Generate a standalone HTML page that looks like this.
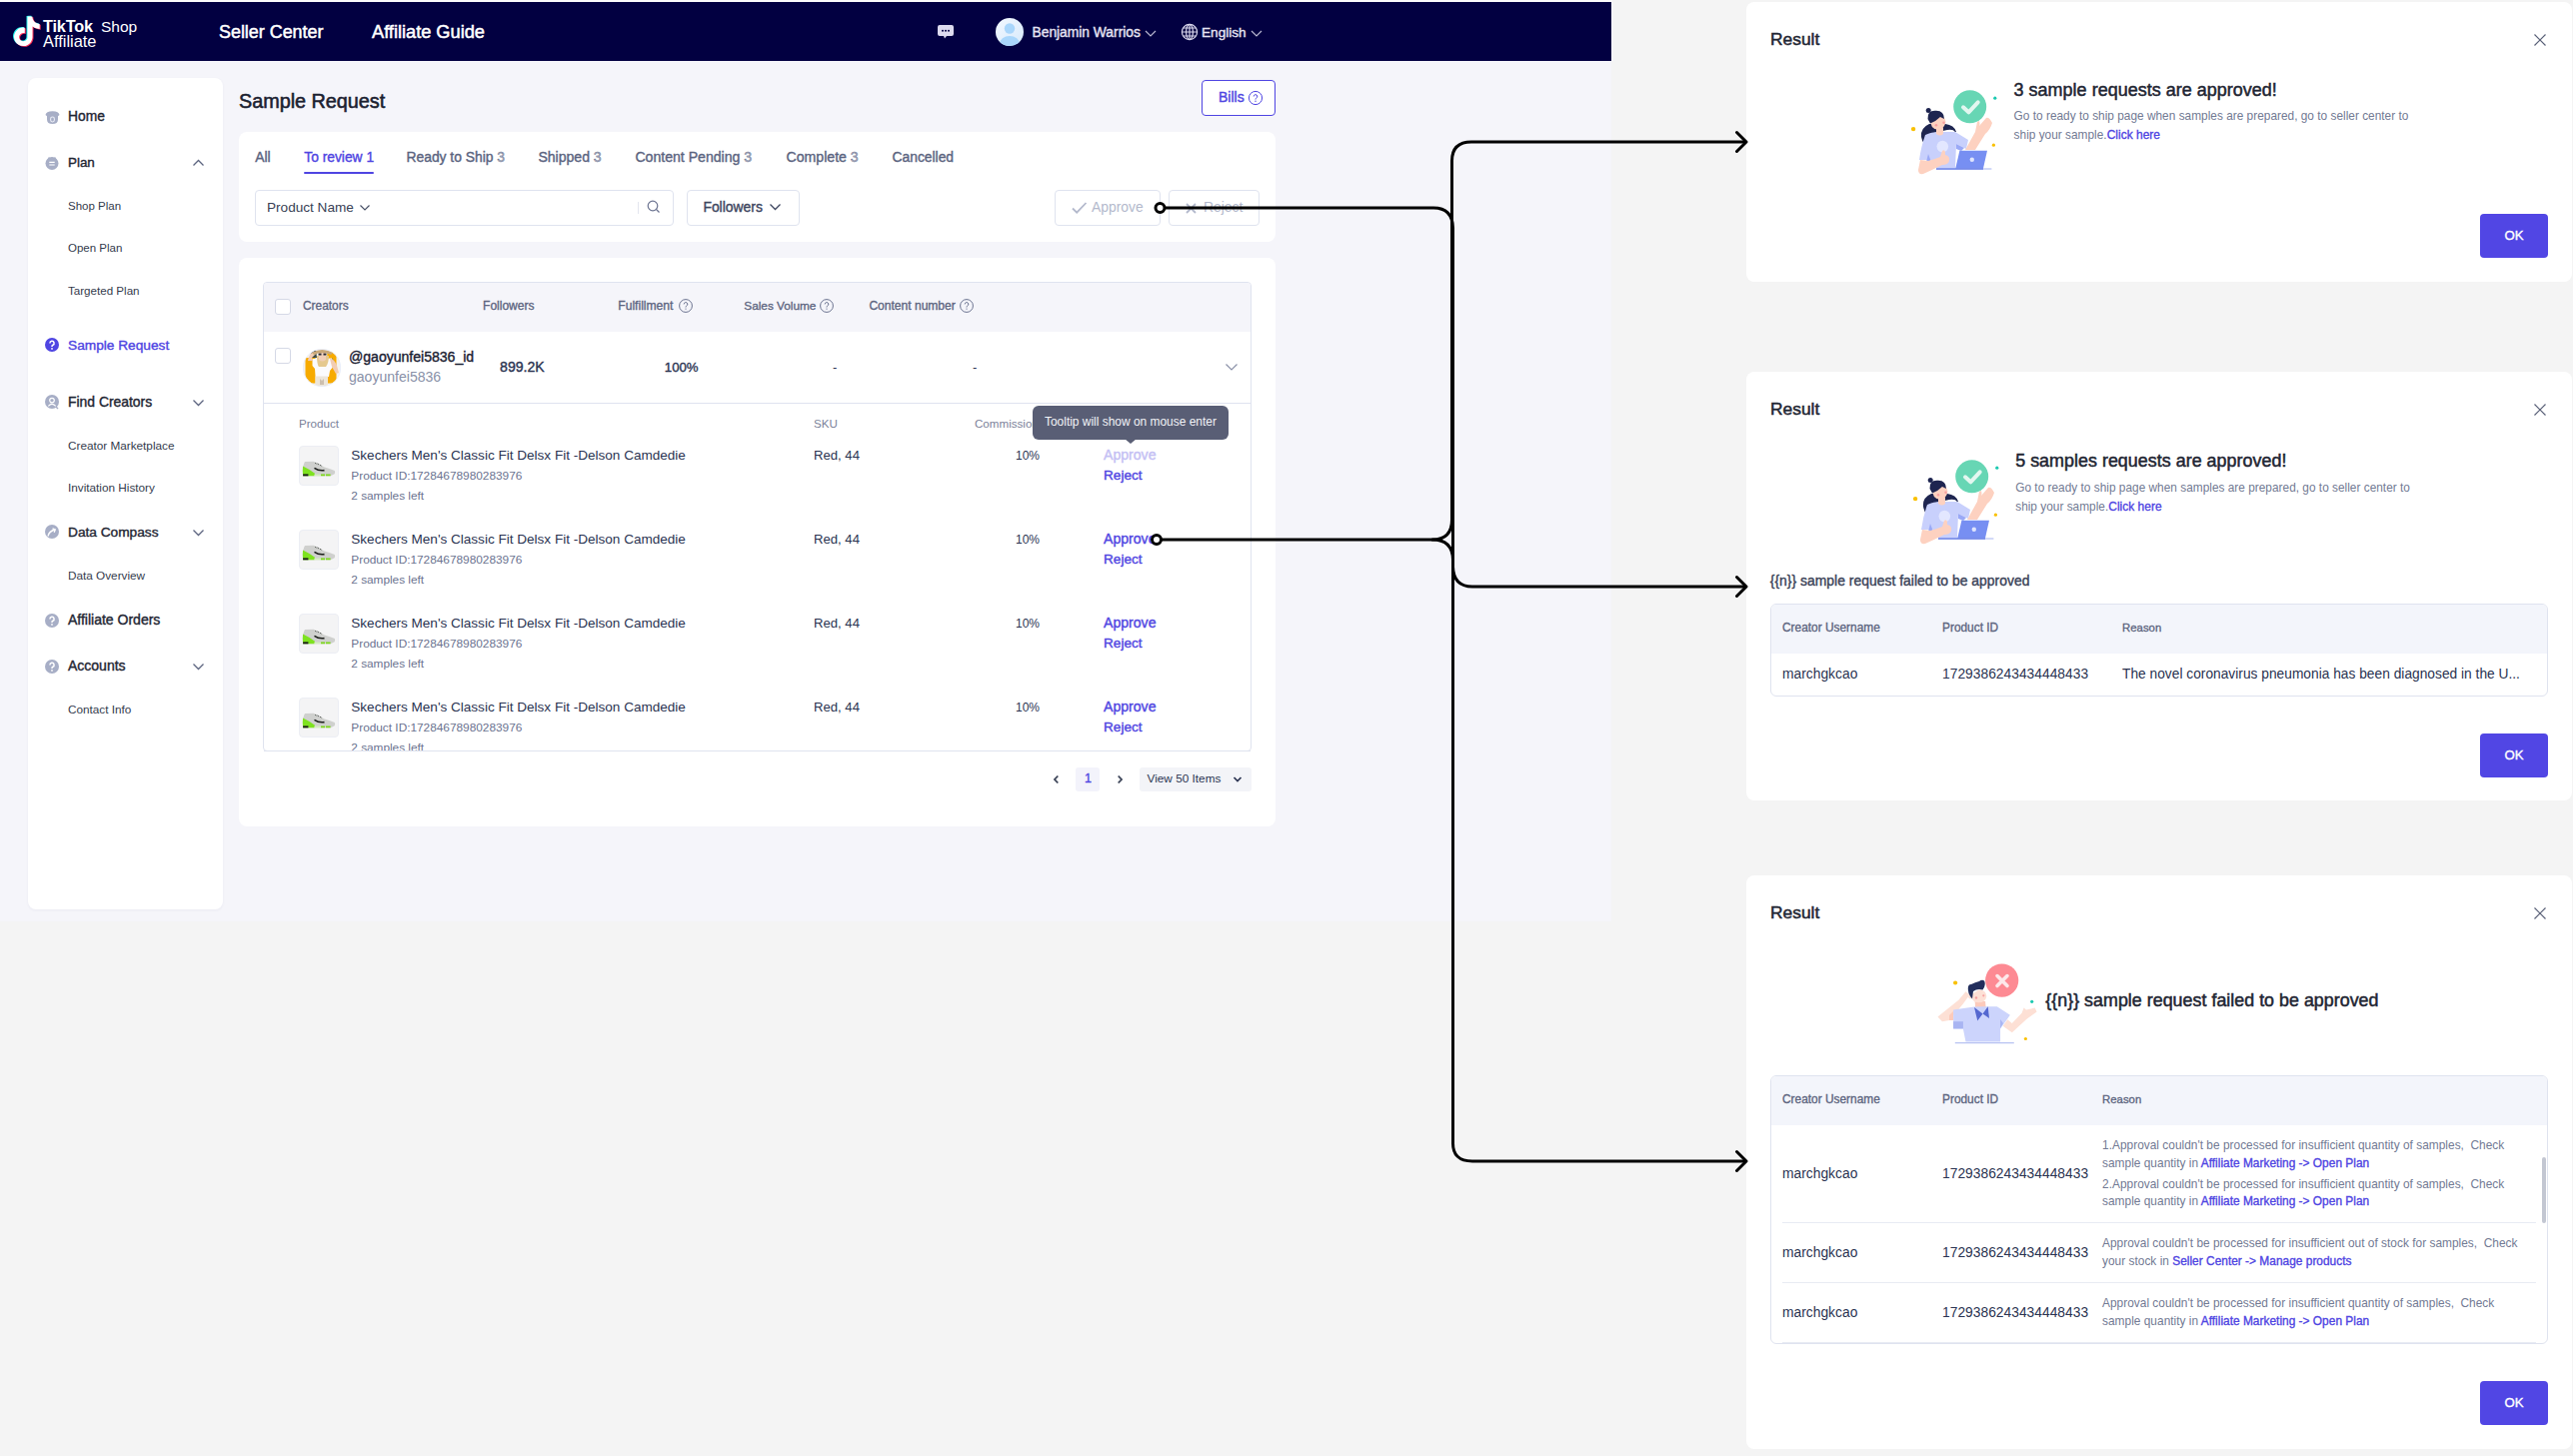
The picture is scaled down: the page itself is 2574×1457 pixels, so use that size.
<!DOCTYPE html>
<html><head><meta charset="utf-8">
<style>
*{box-sizing:border-box;margin:0;padding:0}
html,body{width:2574px;height:1457px;overflow:hidden;background:#f4f4f4;font-family:"Liberation Sans",sans-serif;color:#1f2633}
.abs{position:absolute}
.t{position:absolute;white-space:nowrap;line-height:1}
</style></head><body>
<div class="abs" style="left:0;top:0;width:1612px;height:922px;background:#f5f5fa"></div>
<div class="abs" style="left:0px;top:0px;width:1612px;height:2px;background:#fbfbfc"></div>
<div class="abs" style="left:0px;top:2px;width:1612px;height:59px;background:#020041"></div>
<div class="abs" style="left:1612px;top:0px;width:1px;height:61px;background:#fbfbfc"></div>
<svg class="abs" style="left:10px;top:15px;" width="34" height="36" viewBox="0 0 34 36"><g transform="translate(2.1,1.6) scale(1.23)"><path d="M12.525.02c1.31-.02 2.61-.01 3.91-.02.08 1.53.63 3.09 1.75 4.17 1.12 1.11 2.7 1.62 4.24 1.79v4.03c-1.440-.05-2.890-.35-4.200-.97-.57-.26-1.1-.59-1.620-.93-.01 2.920.01 5.840-.02 8.750-.08 1.4-.54 2.79-1.350 3.940-1.310 1.920-3.580 3.170-5.910 3.210-1.430.08-2.860-.31-4.080-1.030-2.020-1.190-3.440-3.370-3.650-5.710-.02-.5-.03-1-.01-1.490.18-1.900 1.120-3.720 2.580-4.960 1.660-1.440 3.980-2.130 6.150-1.720.02 1.480-.04 2.960-.04 4.440-.99-.32-2.150-.23-3.020.37-.63.41-1.110 1.040-1.360 1.750-.21.51-.15 1.070-.14 1.610.24 1.640 1.820 3.020 3.500 2.870 1.120-.01 2.190-.66 2.770-1.610.19-.33.4-.67.41-1.060.1-1.790.06-3.570.07-5.360.01-4.030-.01-8.050.02-12.070z" fill="#25f4ee" transform="translate(-0.8,-0.6)"/><path d="M12.525.02c1.31-.02 2.61-.01 3.91-.02.08 1.53.63 3.09 1.75 4.17 1.12 1.11 2.7 1.62 4.24 1.79v4.03c-1.440-.05-2.890-.35-4.200-.97-.57-.26-1.1-.59-1.620-.93-.01 2.920.01 5.840-.02 8.750-.08 1.4-.54 2.79-1.350 3.940-1.310 1.920-3.580 3.170-5.910 3.210-1.430.08-2.860-.31-4.080-1.030-2.020-1.190-3.440-3.370-3.650-5.710-.02-.5-.03-1-.01-1.490.18-1.900 1.120-3.720 2.580-4.960 1.660-1.440 3.980-2.130 6.150-1.720.02 1.480-.04 2.960-.04 4.440-.99-.32-2.150-.23-3.020.37-.63.41-1.110 1.040-1.360 1.750-.21.51-.15 1.070-.14 1.610.24 1.640 1.820 3.020 3.500 2.870 1.120-.01 2.190-.66 2.770-1.610.19-.33.4-.67.41-1.060.1-1.790.06-3.570.07-5.360.01-4.030-.01-8.050.02-12.070z" fill="#fe2c55" transform="translate(0.8,0.6)"/><path d="M12.525.02c1.31-.02 2.61-.01 3.91-.02.08 1.53.63 3.09 1.75 4.17 1.12 1.11 2.7 1.62 4.24 1.79v4.03c-1.440-.05-2.890-.35-4.200-.97-.57-.26-1.1-.59-1.620-.93-.01 2.920.01 5.840-.02 8.750-.08 1.4-.54 2.79-1.350 3.940-1.310 1.920-3.580 3.170-5.910 3.210-1.430.08-2.860-.31-4.080-1.030-2.020-1.190-3.440-3.370-3.650-5.710-.02-.5-.03-1-.01-1.490.18-1.900 1.120-3.720 2.580-4.960 1.660-1.440 3.980-2.130 6.150-1.720.02 1.480-.04 2.960-.04 4.440-.99-.32-2.150-.23-3.020.37-.63.41-1.110 1.040-1.360 1.750-.21.51-.15 1.070-.14 1.610.24 1.640 1.820 3.020 3.500 2.870 1.120-.01 2.190-.66 2.770-1.610.19-.33.4-.67.41-1.060.1-1.790.06-3.570.07-5.360.01-4.030-.01-8.050.02-12.070z" fill="#fff"/></g></svg>
<div class="t" style="left:43.0px;top:18.00px;font-size:16.3px;color:#fff;font-weight:700;letter-spacing:-0.2px">TikTok</div>
<div class="t" style="left:101.0px;top:19.00px;font-size:15.5px;color:#fff;">Shop</div>
<div class="t" style="left:43.0px;top:33.00px;font-size:16.4px;color:#fff;">Affiliate</div>
<div class="t" style="left:219.0px;top:24.00px;font-size:17.9px;color:#fff;-webkit-text-stroke:0.50px #fff;">Seller Center</div>
<div class="t" style="left:372.0px;top:23.00px;font-size:18.2px;color:#fff;-webkit-text-stroke:0.51px #fff;">Affiliate Guide</div>
<svg class="abs" style="left:937px;top:24px;" width="18" height="16" viewBox="0 0 18 16"><path d="M3 1h12a2 2 0 0 1 2 2v7a2 2 0 0 1-2 2H10l-2 2.5L7 12H3a2 2 0 0 1-2-2V3a2 2 0 0 1 2-2z" fill="#dddbef"/><circle cx="6" cy="6.8" r="1" fill="#020041"/><circle cx="9" cy="6.8" r="1" fill="#020041"/><circle cx="12" cy="6.8" r="1" fill="#020041"/></svg>
<svg class="abs" style="left:996px;top:18px;" width="28" height="28" viewBox="0 0 28 28"><defs><linearGradient id="av" x1="0" y1="0" x2="1" y2="1"><stop offset="0" stop-color="#f3f8ff"/><stop offset="1" stop-color="#d6e9fb"/></linearGradient><clipPath id="avc"><circle cx="14" cy="14" r="14"/></clipPath></defs><circle cx="14" cy="14" r="14" fill="url(#av)"/><g clip-path="url(#avc)"><circle cx="14" cy="10.5" r="5.2" fill="#a9d6fb"/><ellipse cx="14" cy="26" rx="10" ry="8" fill="#a9d6fb"/></g></svg>
<div class="t" style="left:1032.5px;top:26.00px;font-size:13.8px;color:#e6e4f3;-webkit-text-stroke:0.39px #e6e4f3;">Benjamin Warrios</div>
<svg class="abs" style="left:1145px;top:30px;" width="12" height="7" viewBox="0 0 12 7"><path d="M1 1l5 5 5-5" fill="none" stroke="#b8b6d0" stroke-width="1.2"/></svg>
<svg class="abs" style="left:1181px;top:23px;" width="18" height="18" viewBox="0 0 18 18"><g fill="none" stroke="#d9d7ec" stroke-width="1.2"><circle cx="9" cy="9" r="7.6"/><ellipse cx="9" cy="9" rx="3.4" ry="7.6"/><path d="M1.4 9h15.2M2.5 5h13M2.5 13h13M9 1.4v15.2"/></g></svg>
<div class="t" style="left:1202.0px;top:26.00px;font-size:13.6px;color:#e6e4f3;-webkit-text-stroke:0.38px #e6e4f3;">English</div>
<svg class="abs" style="left:1251px;top:30px;" width="12" height="7" viewBox="0 0 12 7"><path d="M1 1l5 5 5-5" fill="none" stroke="#b8b6d0" stroke-width="1.2"/></svg>
<div class="abs" style="left:28px;top:78px;width:195px;height:832px;background:#fff;border-radius:8px;box-shadow:0 1px 3px rgba(30,40,90,0.05)"></div>
<svg class="abs" style="left:45px;top:110px;" width="15" height="15" viewBox="0 0 15 15"><path d="M0.5 5Q1 1.5 7.5 1.2Q14 1.5 14.5 5L13 6.2V9.5Q13 14 7.5 14Q2 14 2 9.5V6.2z" fill="#a7aec6"/><rect x="5.6" y="7" width="3.8" height="5" rx="1.9" fill="none" stroke="#e9ecf5" stroke-width="1.1"/></svg>
<div class="t" style="left:68.0px;top:110.00px;font-size:13.8px;color:#1f2633;-webkit-text-stroke:0.39px #1f2633;">Home</div>
<svg class="abs" style="left:45px;top:156px;" width="15" height="15" viewBox="0 0 15 15"><circle cx="7" cy="7.5" r="6.5" fill="#a7aec6"/><path d="M4 1.5v2M10 1.5v2" stroke="#a7aec6" stroke-width="1.6"/><path d="M4.3 6.3h5.4M4.3 9h5.4" stroke="#fff" stroke-width="1.2"/></svg>
<div class="t" style="left:68.0px;top:156.00px;font-size:13.4px;color:#1f2633;-webkit-text-stroke:0.38px #1f2633;">Plan</div>
<svg class="abs" style="left:192px;top:159px;" width="13" height="8" viewBox="0 0 13 8"><path d="M1.5 6.5l5-5 5 5" fill="none" stroke="#5d6580" stroke-width="1.3"/></svg>
<div class="t" style="left:68.0px;top:201.00px;font-size:11.5px;color:#343b4d;">Shop Plan</div>
<div class="t" style="left:68.0px;top:243.00px;font-size:11.5px;color:#343b4d;">Open Plan</div>
<div class="t" style="left:68.0px;top:285.00px;font-size:11.6px;color:#343b4d;">Targeted Plan</div>
<svg class="abs" style="left:45px;top:338px;" width="15" height="15" viewBox="0 0 15 15"><circle cx="7" cy="7" r="7" fill="#4f45e2"/><path d="M4.9 5.4a2.1 2.1 0 1 1 3 1.9c-.6.3-.9.7-.9 1.3v.5" fill="none" stroke="#fff" stroke-width="1.5"/><circle cx="7" cy="10.9" r="0.9" fill="#fff"/></svg>
<div class="t" style="left:68.0px;top:339.00px;font-size:13.7px;color:#4f45e2;-webkit-text-stroke:0.38px #4f45e2;">Sample Request</div>
<svg class="abs" style="left:45px;top:395px;" width="15" height="15" viewBox="0 0 15 15"><circle cx="7" cy="7" r="7" fill="#a7aec6"/><circle cx="7" cy="5.6" r="2.3" fill="none" stroke="#fff" stroke-width="1.2"/><path d="M3.3 11.3q3.7-4 7.4 0" fill="none" stroke="#fff" stroke-width="1.2"/><path d="M11 12l2 2" stroke="#a7aec6" stroke-width="1.5"/></svg>
<div class="t" style="left:68.0px;top:396.00px;font-size:13.9px;color:#1f2633;-webkit-text-stroke:0.39px #1f2633;">Find Creators</div>
<svg class="abs" style="left:192px;top:399px;" width="13" height="8" viewBox="0 0 13 8"><path d="M1.5 1.5l5 5 5-5" fill="none" stroke="#5d6580" stroke-width="1.3"/></svg>
<div class="t" style="left:68.0px;top:440.00px;font-size:11.75px;color:#343b4d;">Creator Marketplace</div>
<div class="t" style="left:68.0px;top:482.00px;font-size:11.75px;color:#343b4d;">Invitation History</div>
<svg class="abs" style="left:45px;top:525px;" width="15" height="15" viewBox="0 0 15 15"><circle cx="7" cy="7" r="7" fill="#a7aec6"/><path d="M3 11.5q1-5 7-6.5" fill="none" stroke="#fff" stroke-width="1.4"/><path d="M7.5 3.8l2.8 1.1-1.1 2.8" fill="none" stroke="#fff" stroke-width="1.3"/></svg>
<div class="t" style="left:68.0px;top:526.00px;font-size:13.7px;color:#1f2633;-webkit-text-stroke:0.38px #1f2633;">Data Compass</div>
<svg class="abs" style="left:192px;top:529px;" width="13" height="8" viewBox="0 0 13 8"><path d="M1.5 1.5l5 5 5-5" fill="none" stroke="#5d6580" stroke-width="1.3"/></svg>
<div class="t" style="left:68.0px;top:570.00px;font-size:11.75px;color:#343b4d;">Data Overview</div>
<svg class="abs" style="left:45px;top:614px;" width="15" height="15" viewBox="0 0 15 15"><circle cx="7" cy="7" r="7" fill="#a7aec6"/><path d="M4.9 5.4a2.1 2.1 0 1 1 3 1.9c-.6.3-.9.7-.9 1.3v.5" fill="none" stroke="#fff" stroke-width="1.5"/><circle cx="7" cy="10.9" r="0.9" fill="#fff"/></svg>
<div class="t" style="left:68.0px;top:613.00px;font-size:14.0px;color:#1f2633;-webkit-text-stroke:0.39px #1f2633;">Affiliate Orders</div>
<svg class="abs" style="left:45px;top:660px;" width="15" height="15" viewBox="0 0 15 15"><circle cx="7" cy="7" r="7" fill="#a7aec6"/><path d="M4.9 5.4a2.1 2.1 0 1 1 3 1.9c-.6.3-.9.7-.9 1.3v.5" fill="none" stroke="#fff" stroke-width="1.5"/><circle cx="7" cy="10.9" r="0.9" fill="#fff"/></svg>
<div class="t" style="left:68.0px;top:659.00px;font-size:14.0px;color:#1f2633;-webkit-text-stroke:0.39px #1f2633;">Accounts</div>
<svg class="abs" style="left:192px;top:663px;" width="13" height="8" viewBox="0 0 13 8"><path d="M1.5 1.5l5 5 5-5" fill="none" stroke="#5d6580" stroke-width="1.3"/></svg>
<div class="t" style="left:68.0px;top:704.00px;font-size:11.75px;color:#343b4d;">Contact Info</div>
<div class="t" style="left:239.0px;top:92.00px;font-size:19.8px;color:#1b2130;-webkit-text-stroke:0.55px #1b2130;">Sample Request</div>
<div class="abs" style="left:1202px;top:80px;width:74px;height:36px;border:1px solid #4f45e2;border-radius:4px;background:#fff"></div>
<div class="t" style="left:1219.0px;top:90.00px;font-size:14px;color:#4f45e2;-webkit-text-stroke:0.39px #4f45e2;">Bills</div>
<svg class="abs" style="left:1248px;top:90px;" width="16" height="16" viewBox="0 0 16 16"><circle cx="8" cy="8" r="6.6" fill="none" stroke="#4f45e2" stroke-width="1"/><path d="M6.2 6.5a1.8 1.8 0 1 1 2.6 1.6c-.5.3-.8.6-.8 1.1v.4" fill="none" stroke="#4f45e2" stroke-width="1"/><circle cx="8" cy="11.2" r="0.7" fill="#4f45e2"/></svg>
<div class="abs" style="left:239px;top:132px;width:1037px;height:110px;background:#fff;border-radius:8px"></div>
<div class="t" style="left:255.2px;top:151.00px;font-size:13.95px;color:#5b6480;-webkit-text-stroke:0.39px #5b6480;">All</div>
<div class="t" style="left:304.3px;top:151.00px;font-size:13.8px;color:#4f45e2;-webkit-text-stroke:0.39px #4f45e2;">To review 1</div>
<div class="abs" style="left:304px;top:172px;width:70px;height:2px;background:#4f45e2;border-radius:1px"></div>
<div class="t" style="left:406.5px;top:151.00px;font-size:13.85px;color:#5b6480;-webkit-text-stroke:0.39px #5b6480;">Ready to Ship <span style="color:#abb2c6">3</span></div>
<div class="t" style="left:538.4px;top:150.00px;font-size:14.05px;color:#5b6480;-webkit-text-stroke:0.39px #5b6480;">Shipped <span style="color:#abb2c6">3</span></div>
<div class="t" style="left:635.4px;top:150.00px;font-size:14.1px;color:#5b6480;-webkit-text-stroke:0.39px #5b6480;">Content Pending <span style="color:#abb2c6">3</span></div>
<div class="t" style="left:786.6px;top:150.00px;font-size:14.1px;color:#5b6480;-webkit-text-stroke:0.39px #5b6480;">Complete <span style="color:#abb2c6">3</span></div>
<div class="t" style="left:892.5px;top:151.00px;font-size:13.85px;color:#5b6480;-webkit-text-stroke:0.39px #5b6480;">Cancelled</div>
<div class="abs" style="left:255px;top:190px;width:419px;height:36px;border:1px solid #dfe3ef;border-radius:4px"></div>
<div class="t" style="left:267.0px;top:201.00px;font-size:13.6px;color:#3a4256;">Product Name</div>
<svg class="abs" style="left:359px;top:204px;" width="12" height="8" viewBox="0 0 12 8"><path d="M1.5 1.5l4.5 4.5 4.5-4.5" fill="none" stroke="#4a5268" stroke-width="1.2"/></svg>
<div class="abs" style="left:638px;top:202px;width:1px;height:12px;background:#e3e6ef"></div>
<svg class="abs" style="left:646px;top:199px;" width="16" height="16" viewBox="0 0 16 16"><circle cx="7" cy="7" r="4.8" fill="none" stroke="#6b7390" stroke-width="1.2"/><path d="M10.5 10.5l3 3" stroke="#6b7390" stroke-width="1.2"/></svg>
<div class="abs" style="left:687px;top:190px;width:113px;height:36px;border:1px solid #dfe3ef;border-radius:4px"></div>
<div class="t" style="left:703.4px;top:201.00px;font-size:13.9px;color:#3e4660;-webkit-text-stroke:0.39px #3e4660;">Followers</div>
<svg class="abs" style="left:769px;top:203px;" width="13" height="8" viewBox="0 0 13 8"><path d="M1.5 1.5l5 5 5-5" fill="none" stroke="#3e4660" stroke-width="1.3"/></svg>
<div class="abs" style="left:1055px;top:190px;width:106px;height:36px;border:1px solid #dfe3ef;border-radius:4px"></div>
<svg class="abs" style="left:1071px;top:200px;" width="18" height="16" viewBox="0 0 18 16"><path d="M2 8.5l4.2 4.2L15.5 3" fill="none" stroke="#b3b9cc" stroke-width="1.8"/></svg>
<div class="t" style="left:1092.0px;top:201.00px;font-size:13.9px;color:#b3b9cc;">Approve</div>
<div class="abs" style="left:1169px;top:190px;width:91px;height:36px;border:1px solid #dfe3ef;border-radius:4px"></div>
<svg class="abs" style="left:1185px;top:202px;" width="13" height="13" viewBox="0 0 13 13"><path d="M2 2l9 9M11 2l-9 9" fill="none" stroke="#b3b9cc" stroke-width="1.8"/></svg>
<div class="t" style="left:1204.0px;top:201.00px;font-size:13.9px;color:#b3b9cc;">Reject</div>
<div class="abs" style="left:239px;top:258px;width:1037px;height:569px;background:#fff;border-radius:8px"></div>
<div class="abs" style="left:263px;top:282px;width:989px;height:470px;border:1px solid #dfe3ef;border-radius:4px;overflow:hidden"></div>
<div class="abs" style="left:264px;top:283px;width:987px;height:49px;background:#f5f5fa;border-radius:3px 3px 0 0"></div>
<div class="abs" style="left:275px;top:299px;width:16px;height:16px;border:1px solid #d5d9e6;border-radius:3px;background:#fff"></div>
<div class="t" style="left:303.0px;top:301.00px;font-size:11.9px;color:#5d6580;-webkit-text-stroke:0.33px #5d6580;">Creators</div>
<div class="t" style="left:483.1px;top:300.00px;font-size:12.0px;color:#5d6580;-webkit-text-stroke:0.34px #5d6580;">Followers</div>
<div class="t" style="left:618.3px;top:300.00px;font-size:12.1px;color:#5d6580;-webkit-text-stroke:0.34px #5d6580;">Fulfillment</div>
<svg class="abs" style="left:678px;top:298px;" width="16" height="16" viewBox="0 0 16 16"><circle cx="8" cy="8" r="6.4" fill="none" stroke="#6b7390" stroke-width="1"/><path d="M6.2 6.4a1.8 1.8 0 1 1 2.6 1.6c-.5.3-.8.6-.8 1.1v.4" fill="none" stroke="#6b7390" stroke-width="1"/><circle cx="8" cy="11.1" r="0.7" fill="#6b7390"/></svg>
<div class="t" style="left:744.3px;top:301.00px;font-size:11.8px;color:#5d6580;-webkit-text-stroke:0.33px #5d6580;">Sales Volume</div>
<svg class="abs" style="left:819px;top:298px;" width="16" height="16" viewBox="0 0 16 16"><circle cx="8" cy="8" r="6.4" fill="none" stroke="#6b7390" stroke-width="1"/><path d="M6.2 6.4a1.8 1.8 0 1 1 2.6 1.6c-.5.3-.8.6-.8 1.1v.4" fill="none" stroke="#6b7390" stroke-width="1"/><circle cx="8" cy="11.1" r="0.7" fill="#6b7390"/></svg>
<div class="t" style="left:869.4px;top:300.00px;font-size:12.05px;color:#5d6580;-webkit-text-stroke:0.34px #5d6580;">Content number</div>
<svg class="abs" style="left:959px;top:298px;" width="16" height="16" viewBox="0 0 16 16"><circle cx="8" cy="8" r="6.4" fill="none" stroke="#6b7390" stroke-width="1"/><path d="M6.2 6.4a1.8 1.8 0 1 1 2.6 1.6c-.5.3-.8.6-.8 1.1v.4" fill="none" stroke="#6b7390" stroke-width="1"/><circle cx="8" cy="11.1" r="0.7" fill="#6b7390"/></svg>
<div class="abs" style="left:275px;top:348px;width:16px;height:16px;border:1px solid #d5d9e6;border-radius:3px;background:#fff"></div>
<svg class="abs" style="left:303px;top:349px" width="38" height="38" viewBox="0 0 38 38"><defs><clipPath id="ca"><circle cx="19" cy="19" r="18.7"/></clipPath></defs><g clip-path="url(#ca)"><rect width="38" height="38" fill="#f6f3ee"/><rect x="2.5" y="9" width="10" height="25.5" fill="#f7ab00"/><rect x="24.3" y="2.8" width="9.2" height="31.7" fill="#f7ab00"/><path d="M7 9Q8 2 13 1L14 9z" fill="#3c4a44"/><path d="M29 9l3 5-2 3z" fill="#3c4a44"/><path d="M9.5 10L29 9.5L31 17L27 22L26 28H13L12 20L9.5 17z" fill="#fbfbfd"/><path d="M12.5 27.5H25V38H12.5z" fill="#ede6da"/><path d="M17 30l2 2 2-2v6h-4z" fill="#cdbfae"/><path d="M5 12Q6 5 11 3L13 5L9 9L10 12z" fill="#f2cdb4"/><path d="M27 10Q31 9 34 17L36 24L33 25L29 18z" fill="#f2cdb4"/><path d="M14 7Q14 16 16 18L23 18Q26 14 26 7z" fill="#e5c98f"/><path d="M16 3H23V11Q19.5 14 16 11z" fill="#f1cfb8"/><path d="M15.5 4.5h3v2h-3zM20.5 4.5h3v2h-3z" fill="#2b2b33"/><path d="M9 4Q19 -2 30 4L28 6Q19 2 11 6z" fill="#c9a878"/></g><circle cx="19" cy="19" r="18.7" fill="none" stroke="#e6ecfb" stroke-width="0.8"/></svg>
<div class="t" style="left:349.0px;top:350.00px;font-size:14.05px;color:#1c2233;-webkit-text-stroke:0.39px #1c2233;">@gaoyunfei5836_id</div>
<div class="t" style="left:349.0px;top:370.00px;font-size:14.05px;color:#8a91a8;">gaoyunfei5836</div>
<div class="t" style="left:500.1px;top:360.00px;font-size:14.05px;color:#2b3452;-webkit-text-stroke:0.39px #2b3452;">899.2K</div>
<div class="t" style="left:664.8px;top:361.00px;font-size:13.2px;color:#2b3452;-webkit-text-stroke:0.37px #2b3452;">100%</div>
<div class="t" style="left:833.0px;top:361.00px;font-size:13px;color:#2b3452;">-</div>
<div class="t" style="left:973.0px;top:361.00px;font-size:13px;color:#2b3452;">-</div>
<svg class="abs" style="left:1225px;top:363px;" width="14" height="9" viewBox="0 0 14 9"><path d="M1.5 1.5l5.5 5.5 5.5-5.5" fill="none" stroke="#8a91a8" stroke-width="1.2"/></svg>
<div class="abs" style="left:264px;top:403px;width:987px;height:1px;background:#dfe3ef"></div>
<div class="t" style="left:299.0px;top:418.00px;font-size:11.6px;color:#7b829a;">Product</div>
<div class="t" style="left:814.0px;top:418.00px;font-size:11.6px;color:#7b829a;">SKU</div>
<div class="t" style="left:975.0px;top:418.00px;font-size:11.6px;color:#7b829a;">Commission</div>
<div class="abs" style="left:299px;top:446px;width:40px;height:40px;background:#f4f4f5;border:1px solid #eceef4;border-radius:4px"></div>
<svg class="abs" style="left:299px;top:446px;" width="40" height="40" viewBox="0 0 40 40"><path d="M4 27.5Q3.5 20 6 16L14.5 15.8Q20 17 25 21.3Q32 23.3 35.8 25Q36.6 27 35.7 28.2L31.6 30.3H4.1z" fill="#cfd0ce"/><path d="M4 20.5Q9.5 23 16 27.8L15.5 30.3H4.1Q3.4 25 4 20.5z" fill="#7ee21f"/><path d="M15.5 28.6h6.5v1.7h-6.5z" fill="#d4efbd"/><path d="M22 28.6h4v1.7h-4zM27 28.6h4.6v1.7H27z" fill="#7cd71b"/><path d="M4.1 28.4h5.3v1.9H4.1z" fill="#1a1c19"/><path d="M15.5 22.3Q20 25.5 25.5 24.6" fill="none" stroke="#1a1c19" stroke-width="1.6"/><path d="M16 17.3l1.5 0.8M18.5 18l1.5 0.9M21 19.2l1.5 1" stroke="#555955" stroke-width="0.9"/></svg>
<div class="t" style="left:351.3px;top:449.00px;font-size:13.56px;color:#2b3452;">Skechers Men's Classic Fit Delsx Fit -Delson Camdedie</div>
<div class="t" style="left:351.3px;top:471.00px;font-size:11.83px;color:#6b7390;">Product ID:17284678980283976</div>
<div class="t" style="left:351.3px;top:491.00px;font-size:11.8px;color:#6b7390;">2 samples left</div>
<div class="t" style="left:814.0px;top:449.00px;font-size:13.13px;color:#2b3452;">Red, 44</div>
<div class="t" style="left:1016.0px;top:450.00px;font-size:12.0px;color:#2b3452;">10%</div>
<div class="t" style="left:1104.0px;top:448.00px;font-size:14.1px;color:#c4c0f4;-webkit-text-stroke:0.39px #c4c0f4;">Approve</div>
<div class="t" style="left:1104.0px;top:469.00px;font-size:13.6px;color:#4f45e2;-webkit-text-stroke:0.38px #4f45e2;">Reject</div>
<div class="abs" style="left:299px;top:530px;width:40px;height:40px;background:#f4f4f5;border:1px solid #eceef4;border-radius:4px"></div>
<svg class="abs" style="left:299px;top:530px;" width="40" height="40" viewBox="0 0 40 40"><path d="M4 27.5Q3.5 20 6 16L14.5 15.8Q20 17 25 21.3Q32 23.3 35.8 25Q36.6 27 35.7 28.2L31.6 30.3H4.1z" fill="#cfd0ce"/><path d="M4 20.5Q9.5 23 16 27.8L15.5 30.3H4.1Q3.4 25 4 20.5z" fill="#7ee21f"/><path d="M15.5 28.6h6.5v1.7h-6.5z" fill="#d4efbd"/><path d="M22 28.6h4v1.7h-4zM27 28.6h4.6v1.7H27z" fill="#7cd71b"/><path d="M4.1 28.4h5.3v1.9H4.1z" fill="#1a1c19"/><path d="M15.5 22.3Q20 25.5 25.5 24.6" fill="none" stroke="#1a1c19" stroke-width="1.6"/><path d="M16 17.3l1.5 0.8M18.5 18l1.5 0.9M21 19.2l1.5 1" stroke="#555955" stroke-width="0.9"/></svg>
<div class="t" style="left:351.3px;top:533.00px;font-size:13.56px;color:#2b3452;">Skechers Men's Classic Fit Delsx Fit -Delson Camdedie</div>
<div class="t" style="left:351.3px;top:555.00px;font-size:11.83px;color:#6b7390;">Product ID:17284678980283976</div>
<div class="t" style="left:351.3px;top:575.00px;font-size:11.8px;color:#6b7390;">2 samples left</div>
<div class="t" style="left:814.0px;top:533.00px;font-size:13.13px;color:#2b3452;">Red, 44</div>
<div class="t" style="left:1016.0px;top:534.00px;font-size:12.0px;color:#2b3452;">10%</div>
<div class="t" style="left:1104.0px;top:532.00px;font-size:14.1px;color:#4f45e2;-webkit-text-stroke:0.39px #4f45e2;">Approve</div>
<div class="t" style="left:1104.0px;top:553.00px;font-size:13.6px;color:#4f45e2;-webkit-text-stroke:0.38px #4f45e2;">Reject</div>
<div class="abs" style="left:299px;top:614px;width:40px;height:40px;background:#f4f4f5;border:1px solid #eceef4;border-radius:4px"></div>
<svg class="abs" style="left:299px;top:614px;" width="40" height="40" viewBox="0 0 40 40"><path d="M4 27.5Q3.5 20 6 16L14.5 15.8Q20 17 25 21.3Q32 23.3 35.8 25Q36.6 27 35.7 28.2L31.6 30.3H4.1z" fill="#cfd0ce"/><path d="M4 20.5Q9.5 23 16 27.8L15.5 30.3H4.1Q3.4 25 4 20.5z" fill="#7ee21f"/><path d="M15.5 28.6h6.5v1.7h-6.5z" fill="#d4efbd"/><path d="M22 28.6h4v1.7h-4zM27 28.6h4.6v1.7H27z" fill="#7cd71b"/><path d="M4.1 28.4h5.3v1.9H4.1z" fill="#1a1c19"/><path d="M15.5 22.3Q20 25.5 25.5 24.6" fill="none" stroke="#1a1c19" stroke-width="1.6"/><path d="M16 17.3l1.5 0.8M18.5 18l1.5 0.9M21 19.2l1.5 1" stroke="#555955" stroke-width="0.9"/></svg>
<div class="t" style="left:351.3px;top:617.00px;font-size:13.56px;color:#2b3452;">Skechers Men's Classic Fit Delsx Fit -Delson Camdedie</div>
<div class="t" style="left:351.3px;top:639.00px;font-size:11.83px;color:#6b7390;">Product ID:17284678980283976</div>
<div class="t" style="left:351.3px;top:659.00px;font-size:11.8px;color:#6b7390;">2 samples left</div>
<div class="t" style="left:814.0px;top:617.00px;font-size:13.13px;color:#2b3452;">Red, 44</div>
<div class="t" style="left:1016.0px;top:618.00px;font-size:12.0px;color:#2b3452;">10%</div>
<div class="t" style="left:1104.0px;top:616.00px;font-size:14.1px;color:#4f45e2;-webkit-text-stroke:0.39px #4f45e2;">Approve</div>
<div class="t" style="left:1104.0px;top:637.00px;font-size:13.6px;color:#4f45e2;-webkit-text-stroke:0.38px #4f45e2;">Reject</div>
<div class="abs" style="left:299px;top:698px;width:40px;height:40px;background:#f4f4f5;border:1px solid #eceef4;border-radius:4px"></div>
<svg class="abs" style="left:299px;top:698px;" width="40" height="40" viewBox="0 0 40 40"><path d="M4 27.5Q3.5 20 6 16L14.5 15.8Q20 17 25 21.3Q32 23.3 35.8 25Q36.6 27 35.7 28.2L31.6 30.3H4.1z" fill="#cfd0ce"/><path d="M4 20.5Q9.5 23 16 27.8L15.5 30.3H4.1Q3.4 25 4 20.5z" fill="#7ee21f"/><path d="M15.5 28.6h6.5v1.7h-6.5z" fill="#d4efbd"/><path d="M22 28.6h4v1.7h-4zM27 28.6h4.6v1.7H27z" fill="#7cd71b"/><path d="M4.1 28.4h5.3v1.9H4.1z" fill="#1a1c19"/><path d="M15.5 22.3Q20 25.5 25.5 24.6" fill="none" stroke="#1a1c19" stroke-width="1.6"/><path d="M16 17.3l1.5 0.8M18.5 18l1.5 0.9M21 19.2l1.5 1" stroke="#555955" stroke-width="0.9"/></svg>
<div class="t" style="left:351.3px;top:701.00px;font-size:13.56px;color:#2b3452;">Skechers Men's Classic Fit Delsx Fit -Delson Camdedie</div>
<div class="t" style="left:351.3px;top:723.00px;font-size:11.83px;color:#6b7390;">Product ID:17284678980283976</div>
<div class="t" style="left:351.3px;top:743.00px;font-size:11.8px;color:#6b7390;">2 samples left</div>
<div class="t" style="left:814.0px;top:701.00px;font-size:13.13px;color:#2b3452;">Red, 44</div>
<div class="t" style="left:1016.0px;top:702.00px;font-size:12.0px;color:#2b3452;">10%</div>
<div class="t" style="left:1104.0px;top:700.00px;font-size:14.1px;color:#4f45e2;-webkit-text-stroke:0.39px #4f45e2;">Approve</div>
<div class="t" style="left:1104.0px;top:721.00px;font-size:13.6px;color:#4f45e2;-webkit-text-stroke:0.38px #4f45e2;">Reject</div>
<div class="abs" style="left:263px;top:752px;width:989px;height:12px;background:#fff"></div>
<div class="abs" style="left:264px;top:751px;width:987px;height:1px;background:#dfe3ef"></div>
<div class="abs" style="left:1033px;top:406px;width:196px;height:34px;background:#595e75;border-radius:6px"></div>
<svg class="abs" style="left:1125px;top:439px;" width="12" height="6" viewBox="0 0 12 6"><path d="M0 0h12L6 5z" fill="#595e75"/></svg>
<div class="t" style="left:1045.0px;top:417.00px;font-size:11.95px;color:#f2f3f7;">Tooltip will show on mouse enter</div>
<svg class="abs" style="left:1050px;top:773px;" width="14" height="14" viewBox="0 0 14 14"><path d="M8.3 3.5L5 7l3.3 3.5" fill="none" stroke="#3a4256" stroke-width="1.8"/></svg>
<div class="abs" style="left:1076px;top:768px;width:24px;height:24px;background:#f3f3fb;border-radius:3px"></div>
<div class="t" style="left:1085.0px;top:773.00px;font-size:12.5px;color:#4f45e2;-webkit-text-stroke:0.35px #4f45e2;">1</div>
<svg class="abs" style="left:1113px;top:773px;" width="14" height="14" viewBox="0 0 14 14"><path d="M5.7 3.5L9 7l-3.3 3.5" fill="none" stroke="#3a4256" stroke-width="1.8"/></svg>
<div class="abs" style="left:1140px;top:768px;width:112px;height:24px;background:#f3f4f8;border-radius:3px"></div>
<div class="t" style="left:1147.5px;top:774.00px;font-size:11.8px;color:#2b3452;">View 50 Items</div>
<svg class="abs" style="left:1232px;top:775px;" width="12" height="10" viewBox="0 0 12 10"><path d="M2.5 3l3.5 3.5L9.5 3" fill="none" stroke="#2b3452" stroke-width="1.7"/></svg>
<div class="abs" style="left:1747px;top:2px;width:826px;height:280px;background:#fff;border-radius:8px"></div>
<div class="t" style="left:1771.0px;top:31.00px;font-size:17.4px;color:#1f2633;-webkit-text-stroke:0.49px #1f2633;">Result</div>
<svg class="abs" style="left:2534px;top:33px;" width="14" height="14" viewBox="0 0 14 14"><path d="M1.5 1.5l11 11M12.5 1.5l-11 11" stroke="#5a6178" stroke-width="1.2"/></svg>
<svg class="abs" style="left:1900px;top:80px" width="110" height="100" viewBox="0 0 110 100"><circle cx="70.7" cy="26.8" r="16.5" fill="#67d6b4"/><path d="M64 27.3l5.4 5 9.3-10" fill="none" stroke="#e3f7f0" stroke-width="4" stroke-linecap="round" stroke-linejoin="round"/><circle cx="95.8" cy="18.2" r="1.6" fill="#1bc9b0"/><circle cx="14.1" cy="49.1" r="2.2" fill="#f9c000"/><circle cx="94.4" cy="65.2" r="1.6" fill="#f9c000"/><path d="M30 44Q21 48 22 57Q23 62 25 64L30 54L48 50Q54 49 56 52L57 52Q55 45 46 44z" fill="#1e2550"/><path d="M26 55Q32 52 40 52L56 52L69 60L67 69L57 64L56 88H37L37 80L20 80Q22 66 26 55z" fill="#c8d0fc"/><path d="M57 64L65 68L62 71L57 69z" fill="#9aa9f6"/><path d="M29 74L32 82H27z" fill="#9aa9f6"/><circle cx="43.3" cy="66.6" r="5.8" fill="#e3e7ff"/><path d="M37 48h7v6q-3 3-7 0z" fill="#fdd1c0"/><path d="M31 39Q31 49 38 49.5Q45 50 46.5 42Q46 36 40 36z" fill="#fdd1c0"/><circle cx="37" cy="45.3" r="1.3" fill="#f7a0a0"/><circle cx="44.5" cy="42.8" r="1.2" fill="#f7a0a0"/><path d="M28.5 39Q28 30 37 30.8Q45 31 45 39L41 37Q36 42 31 43.5z" fill="#1e2550"/><circle cx="29.2" cy="30.6" r="2.5" fill="#1e2550"/><path d="M66 70L76 52Q77 47 78 42L80 41Q81 44 80 46L87 38Q90 37 93 43Q91 50 86 54L76 70z" fill="#fdd1c0"/><path d="M60.4 70.7H88L84 88.6H56.3z" fill="#778ff2"/><circle cx="72.8" cy="79.7" r="2.2" fill="#dfe5fd"/><path d="M37 88.2H84v1.6H37z" fill="#5f77e6"/><path d="M84 88.2h8.4v1.6H84z" fill="#c7d0f5"/><path d="M21 80L29 81Q36 79 41 77L43 71Q45 69 46 72L46 75Q51 76 50 81Q49 85 43 85Q33 90 24 94Q19 95 19 90z" fill="#fdd1c0"/></svg>
<div class="t" style="left:2014.6px;top:81.00px;font-size:18.0px;color:#1f2633;-webkit-text-stroke:0.50px #1f2633;">3 sample requests are approved!</div>
<div class="t" style="left:2014.6px;top:111.00px;font-size:11.88px;color:#737b94;">Go to ready to ship page when samples are prepared, go to seller center to</div>
<div class="t" style="left:2014.6px;top:129.00px;font-size:11.88px;color:#737b94;">ship your sample.<span style="color:#4f45e2;-webkit-text-stroke:0.34px #4f45e2;font-size:12px">Click here</span></div>
<div class="abs" style="left:2481px;top:214px;width:68px;height:44px;background:#5146e4;border-radius:4px"></div>
<div class="t" style="left:2505.5px;top:229.00px;font-size:13.2px;color:#fff;-webkit-text-stroke:0.37px #fff;">OK</div>
<div class="abs" style="left:1747px;top:372px;width:826px;height:429px;background:#fff;border-radius:8px"></div>
<div class="t" style="left:1771.0px;top:401.00px;font-size:17.4px;color:#1f2633;-webkit-text-stroke:0.49px #1f2633;">Result</div>
<svg class="abs" style="left:2534px;top:403px;" width="14" height="14" viewBox="0 0 14 14"><path d="M1.5 1.5l11 11M12.5 1.5l-11 11" stroke="#5a6178" stroke-width="1.2"/></svg>
<svg class="abs" style="left:1901.5px;top:450px" width="110" height="100" viewBox="0 0 110 100"><circle cx="70.7" cy="26.8" r="16.5" fill="#67d6b4"/><path d="M64 27.3l5.4 5 9.3-10" fill="none" stroke="#e3f7f0" stroke-width="4" stroke-linecap="round" stroke-linejoin="round"/><circle cx="95.8" cy="18.2" r="1.6" fill="#1bc9b0"/><circle cx="14.1" cy="49.1" r="2.2" fill="#f9c000"/><circle cx="94.4" cy="65.2" r="1.6" fill="#f9c000"/><path d="M30 44Q21 48 22 57Q23 62 25 64L30 54L48 50Q54 49 56 52L57 52Q55 45 46 44z" fill="#1e2550"/><path d="M26 55Q32 52 40 52L56 52L69 60L67 69L57 64L56 88H37L37 80L20 80Q22 66 26 55z" fill="#c8d0fc"/><path d="M57 64L65 68L62 71L57 69z" fill="#9aa9f6"/><path d="M29 74L32 82H27z" fill="#9aa9f6"/><circle cx="43.3" cy="66.6" r="5.8" fill="#e3e7ff"/><path d="M37 48h7v6q-3 3-7 0z" fill="#fdd1c0"/><path d="M31 39Q31 49 38 49.5Q45 50 46.5 42Q46 36 40 36z" fill="#fdd1c0"/><circle cx="37" cy="45.3" r="1.3" fill="#f7a0a0"/><circle cx="44.5" cy="42.8" r="1.2" fill="#f7a0a0"/><path d="M28.5 39Q28 30 37 30.8Q45 31 45 39L41 37Q36 42 31 43.5z" fill="#1e2550"/><circle cx="29.2" cy="30.6" r="2.5" fill="#1e2550"/><path d="M66 70L76 52Q77 47 78 42L80 41Q81 44 80 46L87 38Q90 37 93 43Q91 50 86 54L76 70z" fill="#fdd1c0"/><path d="M60.4 70.7H88L84 88.6H56.3z" fill="#778ff2"/><circle cx="72.8" cy="79.7" r="2.2" fill="#dfe5fd"/><path d="M37 88.2H84v1.6H37z" fill="#5f77e6"/><path d="M84 88.2h8.4v1.6H84z" fill="#c7d0f5"/><path d="M21 80L29 81Q36 79 41 77L43 71Q45 69 46 72L46 75Q51 76 50 81Q49 85 43 85Q33 90 24 94Q19 95 19 90z" fill="#fdd1c0"/></svg>
<div class="t" style="left:2016.2px;top:453.00px;font-size:17.95px;color:#1f2633;-webkit-text-stroke:0.50px #1f2633;">5 samples requests are approved!</div>
<div class="t" style="left:2016.2px;top:483.00px;font-size:11.88px;color:#737b94;">Go to ready to ship page when samples are prepared, go to seller center to</div>
<div class="t" style="left:2016.2px;top:501.00px;font-size:11.88px;color:#737b94;">ship your sample.<span style="color:#4f45e2;-webkit-text-stroke:0.34px #4f45e2;font-size:12px">Click here</span></div>
<div class="t" style="left:1770.8px;top:575.00px;font-size:13.95px;color:#3c4459;-webkit-text-stroke:0.39px #3c4459;">{{n}} sample request failed to be approved</div>
<div class="abs" style="left:1771px;top:604px;width:778px;height:93px;border:1px solid #dfe3ef;border-radius:6px;overflow:hidden"></div>
<div class="abs" style="left:1772px;top:605px;width:776px;height:49px;background:#f3f5fb;border-radius:5px 5px 0 0"></div>
<div class="t" style="left:1783.0px;top:623.00px;font-size:11.9px;color:#5d6580;-webkit-text-stroke:0.33px #5d6580;">Creator Username</div>
<div class="t" style="left:1943.0px;top:623.00px;font-size:11.9px;color:#5d6580;-webkit-text-stroke:0.33px #5d6580;">Product ID</div>
<div class="t" style="left:2123.0px;top:623.00px;font-size:11.4px;color:#5d6580;-webkit-text-stroke:0.32px #5d6580;">Reason</div>
<div class="t" style="left:1783.0px;top:668.00px;font-size:13.83px;color:#2b3452;">marchgkcao</div>
<div class="t" style="left:1943.0px;top:668.00px;font-size:13.84px;color:#2b3452;">1729386243434448433</div>
<div class="t" style="left:2123.0px;top:668.00px;font-size:13.77px;color:#2b3452;">The novel coronavirus pneumonia has been diagnosed in the U...</div>
<div class="abs" style="left:2481px;top:734px;width:68px;height:44px;background:#5146e4;border-radius:4px"></div>
<div class="t" style="left:2505.5px;top:749.00px;font-size:13.2px;color:#fff;-webkit-text-stroke:0.37px #fff;">OK</div>
<div class="abs" style="left:1747px;top:876px;width:826px;height:574px;background:#fff;border-radius:8px"></div>
<div class="t" style="left:1771.0px;top:905.00px;font-size:17.4px;color:#1f2633;-webkit-text-stroke:0.49px #1f2633;">Result</div>
<svg class="abs" style="left:2534px;top:907px;" width="14" height="14" viewBox="0 0 14 14"><path d="M1.5 1.5l11 11M12.5 1.5l-11 11" stroke="#5a6178" stroke-width="1.2"/></svg>
<svg class="abs" style="left:1930px;top:955px" width="115" height="95" viewBox="0 0 115 95"><circle cx="72.7" cy="26.1" r="16.6" fill="#fd8a93"/><path d="M68 21.6l10 10M78 21.6l-10 10" stroke="#fde8ea" stroke-width="3.6" stroke-linecap="round"/><circle cx="26.1" cy="28.5" r="2.1" fill="#f9c000"/><circle cx="102.7" cy="47.3" r="1.6" fill="#1bc9b0"/><circle cx="96.4" cy="84.5" r="1.6" fill="#f9c000"/><path d="M8.5 62.6L29.4 45.7L36.5 37.2L40.4 40.4L33.9 49.6L20.2 65.9L13 67.2z" fill="#fde0d5"/><path d="M20 61L24 57L24 66L20 66z" fill="#fccabb"/><path d="M73.7 71.8L82.8 78.3L97.8 64.6L107.6 57.4L105.7 53.5L97 55.5L94.6 53.5L92.6 58.7L82.8 69.1L78.3 65.2z" fill="#fde0d5"/><path d="M45.7 47h10.4l0.5 6H46z" fill="#fccabb"/><path d="M24.1 55.4L45 52.5L56 52.2L67.8 52.2L80.9 60.7L71.1 74.4L71.1 87.4H36.5L33.9 74.4H24.1z" fill="#ccd4fc"/><path d="M24.1 67.2H33.9V74.4H24.1z" fill="#a8b4f2"/><path d="M71.1 65L74 69L71.1 74z" fill="#a8b4f2"/><path d="M45 52.9L53.5 59.4L48.3 66.5z" fill="#5467d0"/><path d="M58.7 52.2L60 63.9L53.5 59.4z" fill="#5467d0"/><path d="M42.4 40Q42 48 49 48.3Q56 48.5 57.4 42Q57 36 50 35.2z" fill="#fde0d5"/><circle cx="47" cy="43.5" r="1.2" fill="#f7a0a0"/><circle cx="54.3" cy="41.3" r="1.1" fill="#f7a0a0"/><circle cx="40.8" cy="42.8" r="1.6" fill="#fde0d5"/><path d="M38.8 35Q38.5 30 42 30Q46 28 50 27Q53 25 55 26.5Q56.5 29 55 33L53.5 35.5Q48 34 44 37L43 44.5L41 42Q39 39 38.8 35z" fill="#222e5c"/><path d="M25.8 88h59v1.2h-59z" fill="#b8c3f2"/></svg>
<div class="t" style="left:2046.3px;top:993.00px;font-size:17.9px;color:#1f2633;-webkit-text-stroke:0.50px #1f2633;">{{n}} sample request failed to be approved</div>
<div class="abs" style="left:1771px;top:1076px;width:778px;height:269px;border:1px solid #dfe3ef;border-radius:6px;overflow:hidden"></div>
<div class="abs" style="left:1772px;top:1077px;width:776px;height:49px;background:#f3f5fb;border-radius:5px 5px 0 0"></div>
<div class="t" style="left:1783.0px;top:1095.00px;font-size:11.9px;color:#5d6580;-webkit-text-stroke:0.33px #5d6580;">Creator Username</div>
<div class="t" style="left:1943.0px;top:1095.00px;font-size:11.9px;color:#5d6580;-webkit-text-stroke:0.33px #5d6580;">Product ID</div>
<div class="t" style="left:2103.0px;top:1095.00px;font-size:11.4px;color:#5d6580;-webkit-text-stroke:0.32px #5d6580;">Reason</div>
<div class="t" style="left:1783.0px;top:1168.00px;font-size:13.83px;color:#2b3452;">marchgkcao</div>
<div class="t" style="left:1943.0px;top:1168.00px;font-size:13.84px;color:#2b3452;">1729386243434448433</div>
<div class="t" style="left:2103.0px;top:1141.00px;font-size:11.93px;color:#737b94;">1.Approval couldn't be processed for insufficient quantity of samples,<span style='display:inline-block;width:6.5px'></span>Check</div>
<div class="t" style="left:2103.0px;top:1159.00px;font-size:11.93px;color:#737b94;">sample quantity in <span style="color:#4f45e2;-webkit-text-stroke:0.34px #4f45e2">Affiliate Marketing -&gt; Open Plan</span></div>
<div class="t" style="left:2103.0px;top:1180.00px;font-size:11.93px;color:#737b94;">2.Approval couldn't be processed for insufficient quantity of samples,<span style='display:inline-block;width:6.5px'></span>Check</div>
<div class="t" style="left:2103.0px;top:1197.00px;font-size:11.93px;color:#737b94;">sample quantity in <span style="color:#4f45e2;-webkit-text-stroke:0.34px #4f45e2">Affiliate Marketing -&gt; Open Plan</span></div>
<div class="abs" style="left:1783px;top:1223px;width:754px;height:1px;background:#e8ebf3"></div>
<div class="t" style="left:1783.0px;top:1247.00px;font-size:13.83px;color:#2b3452;">marchgkcao</div>
<div class="t" style="left:1943.0px;top:1247.00px;font-size:13.84px;color:#2b3452;">1729386243434448433</div>
<div class="t" style="left:2103.0px;top:1239.00px;font-size:11.93px;color:#737b94;">Approval couldn't be processed for insufficient out of stock for samples,<span style='display:inline-block;width:6.5px'></span>Check</div>
<div class="t" style="left:2103.0px;top:1257.00px;font-size:11.93px;color:#737b94;">your stock in <span style="color:#4f45e2;-webkit-text-stroke:0.34px #4f45e2">Seller Center -&gt; Manage products</span></div>
<div class="abs" style="left:1783px;top:1283px;width:754px;height:1px;background:#e8ebf3"></div>
<div class="t" style="left:1783.0px;top:1307.00px;font-size:13.83px;color:#2b3452;">marchgkcao</div>
<div class="t" style="left:1943.0px;top:1307.00px;font-size:13.84px;color:#2b3452;">1729386243434448433</div>
<div class="t" style="left:2103.0px;top:1299.00px;font-size:11.93px;color:#737b94;">Approval couldn't be processed for insufficient quantity of samples,<span style='display:inline-block;width:6.5px'></span>Check</div>
<div class="t" style="left:2103.0px;top:1317.00px;font-size:11.93px;color:#737b94;">sample quantity in <span style="color:#4f45e2;-webkit-text-stroke:0.34px #4f45e2">Affiliate Marketing -&gt; Open Plan</span></div>
<div class="abs" style="left:1783px;top:1343px;width:754px;height:1px;background:#e8ebf3"></div>
<div class="abs" style="left:2543px;top:1158px;width:4px;height:66px;background:#c3c7d2;border-radius:2px"></div>
<div class="abs" style="left:2481px;top:1382px;width:68px;height:44px;background:#5146e4;border-radius:4px"></div>
<div class="t" style="left:2505.5px;top:1397.00px;font-size:13.2px;color:#fff;-webkit-text-stroke:0.37px #fff;">OK</div>
<svg class="abs" style="left:0;top:0" width="2574" height="1457" viewBox="0 0 2574 1457"><g fill="none" stroke="#000" stroke-width="3" stroke-linecap="round" stroke-linejoin="round"><path d="M1161 208H1434Q1453 208 1453.5 228V1143Q1453 1162 1473 1162H1746"/><path d="M1452.5 520V161Q1452.5 142 1472 142H1746"/><path d="M1157 540H1433Q1452.5 540 1452.5 520"/><path d="M1433 540Q1453 540 1453.5 560V567Q1454 587 1473 587H1746"/><path d="M1737.5 132.5L1747 142L1737.5 151.5M1737.5 577.5L1747 587L1737.5 596.5M1737.5 1152.5L1747 1162L1737.5 1171.5"/></g><circle cx="1160.5" cy="208" r="4.5" fill="#fff" stroke="#000" stroke-width="3"/><circle cx="1157" cy="540" r="4.5" fill="#fff" stroke="#000" stroke-width="3"/></svg>
</body></html>
